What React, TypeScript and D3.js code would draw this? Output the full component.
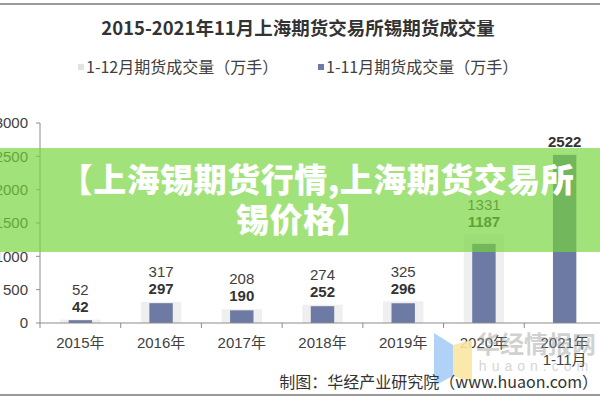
import React from "react"
import { scaleBand, scaleLinear, range } from "d3"

const categories = ["2015年", "2016年", "2017年", "2018年", "2019年", "2020年", "2021年"]
const categorySub = ["", "", "", "", "", "", "1-11月"]
const fullYear = [52, 317, 208, 274, 325, 1331, null]
const janToNov = [42, 297, 190, 252, 296, 1187, 2522]
const yTicks = [0, 500, 1000, 1500, 2000, 2500, 3000]

const title = "2015-2021年11月上海期货交易所锡期货成交量"
const legendNames = ["1-12月期货成交量（万手）", "1-11月期货成交量（万手）"]
const bannerLines = ["【上海锡期货行情,上海期货交易所", "锡价格】"]

const FONT = "'Liberation Sans', 'Noto Sans CJK SC', sans-serif"
const CJK = "'Noto Sans CJK SC', sans-serif"
const BG_BAR = "#efefef"
const FG_BAR = "#6d7aa3"
const AXIS = "#8c8c8c"
const TEXT = "#404040"

export default function App() {
  const x = scaleBand<string>().domain(categories).range([40, 605]).padding(0)
  const y = scaleLinear().domain([0, 3000]).range([323, 123])
  const bw = x.bandwidth()
  const bgW = bw * 0.5
  const fgW = bw * 0.29

  return (
    <svg
      width={600}
      height={400}
      style={{ position: "absolute", left: 0, top: 0, background: "#fff" }}
    >
      {/* frame lines */}
      <line x1={0} x2={600} y1={4} y2={4} stroke="#9a9a9a" strokeWidth={2} />
      <line x1={0} x2={600} y1={395} y2={395} stroke="#9a9a9a" strokeWidth={2} />

      {/* title */}
      <text
        x={298}
        y={35}
        textAnchor="middle"
        fontFamily={CJK}
        fontWeight={700}
        fontSize={18.5}
        fill="#333"
      >
        {title}
      </text>

      {/* legend */}
      {legendNames.map((name, i) => {
        const lx = i === 0 ? 78 : 318
        return (
          <g key={name}>
            <rect x={lx} y={64} width={6} height={6} fill={i === 0 ? "#e3e3e3" : FG_BAR} />
            <text x={lx + 8} y={73} fontFamily={CJK} fontSize={16} fill={TEXT}>
              {name}
            </text>
          </g>
        )
      })}

      {/* bars */}
      {categories.map((c, i) => {
        const cx = x(c)! + bw / 2
        const f = fullYear[i]
        const p = janToNov[i]
        const top = y(Math.max(f ?? 0, p))
        return (
          <g key={c}>
            {f != null && (
              <rect x={cx - bgW / 2} y={y(f)} width={bgW} height={y(0) - y(f)} fill={BG_BAR} />
            )}
            <rect x={cx - fgW / 2} y={y(p)} width={fgW} height={y(0) - y(p)} fill={FG_BAR} />
            <text
              x={cx}
              y={top - 13}
              dy="0.35em"
              textAnchor="middle"
              fontFamily={FONT}
              fontWeight={700}
              fontSize={15}
              fill="#333"
            >
              {p}
            </text>
            {f != null && (
              <text
                x={cx}
                y={top - 30}
                dy="0.35em"
                textAnchor="middle"
                fontFamily={FONT}
                fontSize={15}
                fill={TEXT}
              >
                {f}
              </text>
            )}
          </g>
        )
      })}

      {/* y axis */}
      <line x1={40} x2={40} y1={y(3000)} y2={y(0)} stroke={AXIS} />
      {yTicks.map((t) => (
        <g key={t} transform={`translate(0,${y(t)})`}>
          <line x1={36} x2={40} stroke={AXIS} />
          <text
            x={28}
            dy="0.35em"
            textAnchor="end"
            fontFamily={FONT}
            fontSize={15}
            fill={TEXT}
          >
            {t}
          </text>
        </g>
      ))}

      {/* x axis */}
      <line x1={40} x2={605} y1={y(0)} y2={y(0)} stroke={AXIS} />
      {range(categories.length).map((i) => (
        <line key={i} x1={x(categories[i])!} x2={x(categories[i])!} y1={y(0)} y2={y(0) + 5} stroke={AXIS} />
      ))}
      {categories.map((c, i) => (
        <g key={c}>
          <text
            x={x(c)! + bw / 2}
            y={343}
            dy="0.35em"
            textAnchor="middle"
            fontFamily={FONT}
            fontSize={15}
            fill={TEXT}
          >
            {c}
          </text>
          {categorySub[i] && (
            <text
              x={x(c)! + bw / 2}
              y={360}
              dy="0.35em"
              textAnchor="middle"
              fontFamily={FONT}
              fontSize={15}
              fill={TEXT}
            >
              {categorySub[i]}
            </text>
          )}
        </g>
      ))}

      {/* watermark */}
      <polygon points="434,333 453,345 453,376 434,386" fill="#a9cdf6" opacity={0.9} />
      <polygon points="453,345 472,340 472,382 453,376" fill="#fbe6a2" opacity={0.9} />
      <text
        x={536}
        y={345}
        dy="0.35em"
        textAnchor="middle"
        fontFamily={CJK}
        fontWeight={700}
        fontSize={24}
        fill="#9a9a9a"
        opacity={0.45}
      >
        华经情报网
      </text>
      <text
        x={536}
        y={366}
        dy="0.35em"
        textAnchor="middle"
        fontFamily={FONT}
        fontSize={14}
        letterSpacing={5}
        fill="#9a9a9a"
        opacity={0.4}
      >
        huaon.com
      </text>

      {/* source */}
      <text
        x={598}
        y={382}
        dy="0.35em"
        textAnchor="end"
        fontFamily={CJK}
        fontSize={16}
        fill="#333"
      >
        制图：华经产业研究院（www.huaon.com）
      </text>

      {/* banner overlay */}
      <rect x={0} y={148} width={600} height={104} fill="rgb(118,212,59)" opacity={0.68} />
      {bannerLines.map((line, i) => (
        <text
          key={line}
          x={i === 0 ? 317 : 303}
          y={i === 0 ? 180 : 220}
          dy="0.35em"
          textAnchor="middle"
          fontFamily={CJK}
          fontWeight={900}
          fontSize={33}
          letterSpacing={0.5}
          fill="#fff"
        >
          {line}
        </text>
      ))}
    </svg>
  )
}
